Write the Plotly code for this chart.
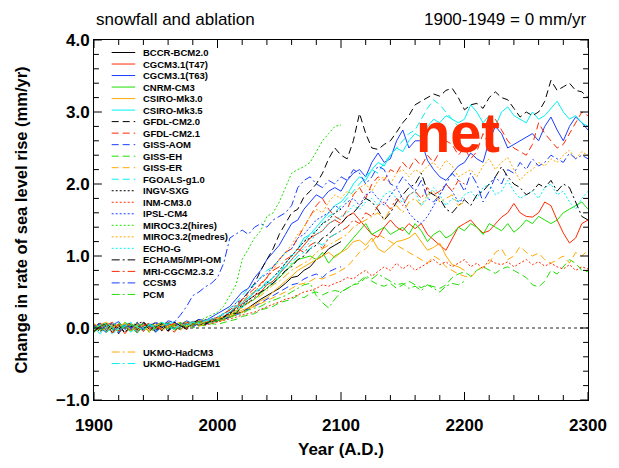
import plotly.graph_objects as go

# ---------------- data (5-year steps from 1900) ----------------
YEARS = list(range(1900, 2301, 5))

MODEL_NAMES = ["BCCR-BCM2.0", "CGCM3.1(T47)", "CGCM3.1(T63)", "CNRM-CM3", "CSIRO-Mk3.0",
               "CSIRO-Mk3.5", "GFDL-CM2.0", "GFDL-CM2.1", "GISS-AOM", "GISS-EH", "GISS-ER",
               "FGOALS-g1.0", "INGV-SXG", "INM-CM3.0", "IPSL-CM4", "MIROC3.2(hires)",
               "MIROC3.2(medres)", "ECHO-G", "ECHAM5/MPI-OM", "MRI-CGCM2.3.2", "CCSM3", "PCM",
               "UKMO-HadCM3", "UKMO-HadGEM1"]

X_MAJOR = [1900, 2000, 2100, 2200, 2300]
Y_MAJOR = [-1.0, 0.0, 1.0, 2.0, 3.0, 4.0]

bccr_bcm2_0 = [-0.04, 0.02, 0.06, -0.07, 0.03, 0.0, 0.05, -0.03, 0.08, 0.02, -0.05, 0.04, 0.07, 0.01, -0.02, 0.05, 0.03, 0.08, 0.05, 0.09,
               0.1, 0.12, 0.15, 0.2, 0.22, 0.28, 0.35, 0.4, 0.45, 0.5, 0.55, 0.62, 0.7, 0.72, 0.8, 0.85, 0.95, 1.0, 1.1, 1.15, 1.2]
cgcm31_t47 = [0.01, 0.07, -0.04, 0.02, 0.05, -0.08, 0.03, 0.0, 0.06, -0.02, 0.04, 0.08, -0.05, 0.03, 0.06, 0.02, 0.09, 0.04, 0.11, 0.08,
              0.12, 0.16, 0.22, 0.28, 0.33, 0.4, 0.45, 0.5, 0.6, 0.65, 0.75, 0.85, 0.95, 1.05, 1.15, 1.25, 1.3, 1.35, 1.45, 1.5,
              1.45, 1.55, 1.6, 1.5, 1.4, 1.3, 1.26, 1.4, 1.5, 1.4, 1.35, 1.45, 1.38, 1.45, 1.3, 1.22, 1.15, 1.08, 1.25, 1.4,
              1.45, 1.5, 1.4, 1.32, 1.35, 1.45, 1.54, 1.6, 1.73, 1.6, 1.55, 1.54, 1.6, 1.75, 1.7, 1.5, 1.32, 1.18, 1.25, 1.45, 1.5]
cgcm31_t63 = [0.05, 0.0, -0.06, 0.04, 0.09, -0.02, 0.03, -0.07, 0.06, 0.02, -0.03, 0.05, 0.08, -0.01, 0.04, 0.1, 0.06, 0.12, 0.1, 0.15,
              0.2, 0.25, 0.3, 0.4, 0.5, 0.55, 0.7, 0.8, 0.95, 1.05, 1.15, 1.3, 1.45, 1.5, 1.65, 1.75, 1.85, 1.8, 1.9, 1.95,
              1.9, 2.05, 2.15, 2.2, 2.1, 2.3, 2.43, 2.3, 2.35, 2.6, 2.75, 2.5, 2.6, 2.6, 2.33, 2.2, 2.1, 2.05, 2.15, 2.25,
              2.3, 2.43, 2.35, 2.3, 2.6, 2.8, 2.7, 2.5, 2.55, 2.6, 2.65, 2.7, 2.6, 2.8, 2.93, 2.75, 2.6, 2.8, 2.93, 2.85, 2.75]
cnrm_cm3 = [0.04, -0.03, 0.0, 0.06, -0.05, 0.08, 0.02, -0.07, 0.03, 0.05, -0.01, 0.04, 0.07, -0.03, 0.02, 0.06, 0.03, 0.08, 0.06, 0.1,
            0.1, 0.14, 0.18, 0.22, 0.3, 0.35, 0.4, 0.48, 0.55, 0.62, 0.7, 0.78, 0.88, 0.95, 0.98, 1.0, 0.95, 1.05, 0.9, 1.0,
            1.05, 1.15, 1.25, 1.35, 1.45, 1.3, 1.35, 1.4, 1.3, 1.35, 1.4, 1.3, 1.45, 1.35, 1.2, 1.3, 1.35, 1.25, 1.3, 1.4,
            1.35, 1.45, 1.4, 1.3, 1.45, 1.4, 1.35, 1.45, 1.33, 1.4, 1.5, 1.45, 1.55, 1.5, 1.45, 1.5, 1.6, 1.65, 1.7, 1.75, 1.65]
csiro_mk3_0 = [-0.02, 0.05, 0.08, 0.01, -0.06, 0.03, 0.06, -0.03, 0.04, 0.0, 0.07, -0.04, 0.02, 0.05, 0.08, 0.01, 0.06, 0.09, 0.07, 0.11,
               0.1, 0.14, 0.16, 0.2, 0.25, 0.28, 0.32, 0.38, 0.42, 0.5, 0.58, 0.65, 0.72, 0.8, 0.85, 0.9, 0.95, 1.0, 1.05, 0.98,
               1.05, 1.1, 1.2, 1.22, 1.15, 1.25, 1.1, 1.05, 1.13, 1.2, 1.22, 1.25, 1.32, 1.2, 1.08, 1.12, 1.18, 1.0, 0.88, 0.85, 0.8]
csiro_mk3_5 = [0.0, -0.08, 0.04, 0.07, -0.03, 0.02, -0.06, 0.05, 0.01, -0.04, 0.03, 0.06, -0.02, 0.0, 0.07, 0.04, 0.08, 0.03, 0.1, 0.08,
               0.15, 0.12, 0.22, 0.3, 0.28, 0.4, 0.5, 0.55, 0.65, 0.6, 0.75, 0.9, 1.0, 1.1, 1.25, 1.3, 1.4, 1.5, 1.6, 1.7,
               1.75, 1.85, 2.0, 2.1, 2.05, 2.2, 2.3, 2.25, 2.4, 2.5, 2.45, 2.6, 2.7, 2.65, 2.8, 2.9, 2.85, 2.95, 2.9, 2.85,
               2.9, 3.1, 3.0, 2.85, 2.95, 2.8, 3.0, 3.07, 2.95, 2.9, 2.85, 3.0, 2.9, 2.95, 3.05, 3.15, 3.0, 2.9, 2.95, 2.85, 2.8]
gfdl_cm2_0 = [0.03, -0.06, 0.05, 0.0, -0.08, 0.04, 0.07, -0.03, 0.02, -0.05, 0.06, 0.01, -0.04, 0.08, 0.03, -0.02, 0.05, 0.1, 0.06, 0.12,
              0.1, 0.15, 0.2, 0.28, 0.4, 0.5, 0.62, 0.8, 0.95, 1.1, 1.3, 1.45, 1.6, 1.65, 1.82, 1.9, 2.0, 2.15, 2.35, 2.5,
              2.4, 2.35, 2.6, 2.98, 2.7, 2.5, 2.48, 2.55, 2.6, 2.72, 2.85, 2.95, 3.1, 3.15, 3.2, 3.25, 3.22, 3.3, 3.33, 3.2,
              3.03, 3.1, 3.12, 3.05, 3.2, 3.28, 3.2, 3.17, 3.05, 2.93, 3.0, 2.95, 3.0, 3.15, 3.44, 3.3, 3.35, 3.4, 3.3, 3.28, 3.2]
gfdl_cm2_1 = [-0.04, 0.05, 0.02, -0.07, 0.06, 0.0, -0.03, 0.08, -0.05, 0.03, 0.07, -0.02, 0.04, -0.06, 0.05, 0.09, 0.02, 0.08, 0.06, 0.1,
              0.12, 0.2, 0.18, 0.3, 0.35, 0.45, 0.5, 0.62, 0.7, 0.85, 0.95, 1.05, 1.1, 1.25, 1.4, 1.55, 1.7, 1.8, 1.65, 1.55,
              1.5, 1.65, 1.85, 1.95, 1.8, 2.0, 2.1, 2.05, 2.2, 2.15, 2.3, 2.2, 2.35, 2.25, 2.4, 2.3, 2.45, 2.6, 2.55, 2.4,
              2.5, 2.35, 2.45, 2.7, 2.55, 2.9, 2.75, 2.6, 2.5, 2.45, 2.4, 2.55, 2.85, 2.7, 2.6, 2.5, 2.55, 2.7, 2.85, 3.0, 2.95]
giss_aom = [-0.01, 0.05, 0.02, -0.05, 0.06, 0.03, -0.02, 0.07, 0.0, 0.04, -0.06, 0.02, 0.05, 0.08, 0.03, 0.06, 0.01, 0.07, 0.05, 0.08,
            0.1, 0.12, 0.16, 0.18, 0.22, 0.25, 0.3, 0.35, 0.4, 0.45, 0.5, 0.55, 0.6, 0.62, 0.68, 0.72, 0.75, 0.7, 0.78, 0.82, 0.85]
giss_eh = [-0.06, 0.02, 0.05, -0.03, 0.07, 0.0, -0.04, 0.03, 0.06, -0.07, 0.01, 0.04, -0.02, 0.05, 0.02, 0.07, 0.0, 0.04, 0.03, 0.06,
           0.05, 0.08, 0.1, 0.12, 0.16, 0.18, 0.2, 0.25, 0.28, 0.3, 0.35, 0.38, 0.4, 0.45, 0.42, 0.48, 0.5, 0.46, 0.5, 0.52,
           0.5, 0.55, 0.6, 0.62, 0.7, 0.65, 0.6, 0.58, 0.62, 0.55, 0.6, 0.65, 0.6, 0.56, 0.6, 0.58, 0.55, 0.6, 0.7, 0.75,
           0.78, 0.72, 0.8, 0.85, 0.8, 0.76, 0.82, 0.85, 0.8, 0.75, 0.7, 0.6, 0.57, 0.65, 0.8, 0.75, 0.85, 0.95, 0.9, 0.8, 0.78]
giss_er = [0.04, -0.04, 0.01, 0.05, -0.07, 0.03, 0.06, 0.02, -0.05, 0.04, 0.08, -0.01, 0.03, 0.06, -0.03, 0.05, 0.07, 0.02, 0.06, 0.09,
           0.08, 0.12, 0.15, 0.18, 0.22, 0.25, 0.3, 0.33, 0.38, 0.42, 0.45, 0.5, 0.55, 0.6, 0.62, 0.65, 0.7, 0.68, 0.72, 0.75,
           0.8, 0.85, 0.95, 1.05, 1.1, 1.2, 1.3, 1.25, 1.2, 1.15, 1.1, 1.05, 1.0, 0.95, 0.9, 1.0, 0.95, 0.85, 0.8, 0.75,
           0.72, 0.7, 0.8, 0.85, 0.9, 1.05, 1.1, 0.95, 1.0, 1.13, 1.05, 1.0, 1.04, 0.95, 0.9, 0.95, 1.0, 0.9, 1.05, 1.0, 1.08]
fgoals_g1_0 = [0.0, 0.06, -0.05, 0.03, 0.08, -0.02, 0.04, -0.06, 0.02, 0.07, 0.0, -0.03, 0.05, 0.09, 0.01, 0.06, 0.04, 0.08, 0.1, 0.13,
               0.15, 0.2, 0.28, 0.35, 0.45, 0.55, 0.6, 0.7, 0.8, 0.85, 0.95, 1.05, 1.0, 1.1, 1.2, 1.3, 1.35, 1.45, 1.55, 1.6,
               1.7, 1.8, 1.9, 2.0, 2.1, 2.2, 2.15, 2.3, 2.4, 2.5, 2.6, 2.7, 2.75, 2.9, 3.05, 3.17, 3.1, 3.0, 2.9, 2.8, 2.75]
ingv_sxg = [0.02, 0.07, -0.03, 0.04, 0.0, -0.06, 0.05, 0.03, -0.02, 0.06, 0.01, -0.04, 0.08, 0.03, 0.05, 0.0, 0.06, 0.04, 0.07, 0.08,
            0.1, 0.15, 0.2, 0.25, 0.32, 0.38, 0.45, 0.55, 0.62, 0.7, 0.8, 0.9, 1.0, 1.1, 1.2, 1.25, 1.35, 1.45, 1.5, 1.6, 1.65]
inm_cm3_0 = [0.03, -0.05, 0.02, 0.06, -0.03, 0.01, 0.07, -0.06, 0.04, 0.02, -0.02, 0.05, 0.0, 0.06, 0.03, -0.01, 0.05, 0.08, 0.04, 0.06,
             0.08, 0.1, 0.12, 0.15, 0.18, 0.2, 0.22, 0.26, 0.3, 0.33, 0.36, 0.4, 0.42, 0.46, 0.5, 0.52, 0.55, 0.6, 0.58, 0.62,
             0.65, 0.7, 0.68, 0.75, 0.8, 0.72, 0.78, 0.85, 0.8, 0.9, 0.82, 0.88, 0.8, 0.85, 0.9, 0.95, 0.88, 0.92, 0.85, 0.9,
             0.95, 0.85, 0.9, 0.82, 0.95, 0.9, 0.88, 0.92, 0.85, 0.9, 0.95, 0.88, 0.92, 0.86, 0.9, 0.85, 0.82, 0.88, 0.8, 0.85, 0.82]
ipsl_cm4 = [0.05, -0.03, 0.02, 0.07, -0.05, 0.04, 0.0, 0.06, -0.02, 0.03, 0.08, 0.04, -0.04, 0.02, 0.07, 0.05, 0.09, 0.06, 0.12, 0.1,
            0.15, 0.2, 0.25, 0.35, 0.4, 0.5, 0.6, 0.7, 0.75, 0.85, 0.95, 1.05, 1.1, 1.25, 1.3, 1.4, 1.5, 1.55, 1.6, 1.7,
            1.65, 1.75, 1.8, 1.7, 1.85, 1.9, 1.8, 1.7, 1.85, 1.95, 1.8, 1.6, 1.5, 1.45, 1.55, 1.7, 1.85, 2.0, 1.9, 1.75, 1.8]
miroc32_hires = [0.03, -0.04, 0.06, 0.01, -0.06, 0.05, 0.02, 0.08, -0.03, 0.04, 0.0, 0.07, 0.03, -0.02, 0.06, 0.09, 0.05, 0.1, 0.14, 0.18,
                 0.22, 0.3, 0.45, 0.6, 0.95, 1.1, 1.25, 1.35, 1.55, 1.6, 1.75, 1.95, 2.15, 2.2, 2.24, 2.3, 2.45, 2.6, 2.7, 2.8, 2.82]
miroc32_medres = [-0.03, 0.04, 0.07, -0.05, 0.02, 0.06, -0.04, 0.01, 0.05, -0.06, 0.03, 0.08, 0.0, 0.04, -0.02, 0.06, 0.09, 0.05, 0.12, 0.1,
                  0.14, 0.2, 0.25, 0.3, 0.38, 0.45, 0.5, 0.6, 0.7, 0.8, 0.95, 1.05, 1.15, 1.3, 1.4, 1.55, 1.65, 1.6, 1.75, 1.85,
                  1.8, 1.9, 1.85, 1.95, 2.0, 1.9, 2.05, 2.1, 2.0, 2.15, 2.2, 2.1, 2.2, 2.15, 2.25, 2.3, 2.2, 2.33, 2.25, 2.1,
                  2.15, 2.2, 2.1, 2.25, 2.35, 2.2, 2.3, 2.37, 2.2, 2.05, 2.15, 2.2, 2.3, 2.25, 2.35, 2.3, 2.4, 2.47, 2.35, 2.45, 2.4]
echo_g = [0.06, -0.02, 0.03, -0.09, 0.01, 0.05, 0.08, -0.04, 0.0, 0.06, -0.05, 0.02, 0.07, 0.03, -0.01, 0.05, 0.1, 0.07, 0.09, 0.14,
          0.12, 0.18, 0.22, 0.3, 0.35, 0.42, 0.5, 0.55, 0.6, 0.7, 0.78, 0.85, 0.95, 1.05, 1.1, 1.2, 1.3, 1.35, 1.45, 1.5,
          1.55, 1.6, 1.7, 1.65, 1.75, 1.8, 1.7, 1.85, 1.9, 1.8, 1.75, 1.85, 1.9, 1.7, 1.8, 1.95, 1.85, 1.7, 1.8, 1.75,
          1.85, 1.9, 1.8, 1.95, 2.0, 1.85, 1.9, 2.05, 1.9, 1.8, 1.85, 1.9, 1.8, 1.95, 2.0, 1.85, 1.9, 1.75, 1.65, 1.8, 1.9]
echam5_mpi_om = [-0.05, 0.03, 0.07, -0.02, 0.04, -0.06, 0.02, 0.05, 0.09, -0.03, 0.01, 0.06, -0.04, 0.08, 0.03, 0.0, 0.07, 0.12, 0.05, 0.1,
                 0.12, 0.15, 0.22, 0.2, 0.3, 0.35, 0.42, 0.5, 0.55, 0.62, 0.7, 0.8, 0.85, 0.95, 1.0, 1.1, 1.15, 1.25, 1.3, 1.4,
                 1.45, 1.55, 1.6, 1.7, 1.8, 1.75, 1.64, 1.5, 1.6, 1.75, 1.85, 1.95, 2.0, 2.15, 1.9, 1.85, 1.8, 1.65, 1.6, 1.7,
                 1.78, 1.7, 1.85, 1.9, 2.0, 2.1, 2.24, 2.1, 2.0, 1.95, 1.85, 1.9, 2.0, 1.95, 2.05, 1.9, 2.0, 1.95, 1.75, 1.55, 1.5]
mri_cgcm2_3_2 = [0.05, -0.02, 0.04, 0.08, -0.04, 0.01, 0.06, -0.05, 0.03, 0.07, 0.02, -0.03, 0.04, 0.06, 0.0, 0.08, 0.05, 0.1, 0.07, 0.12,
                 0.15, 0.2, 0.25, 0.32, 0.4, 0.48, 0.55, 0.6, 0.7, 0.8, 0.85, 0.95, 1.0, 1.1, 1.05, 1.15, 1.2, 1.1, 1.25, 1.3,
                 1.35, 1.4, 1.5, 1.45, 1.6, 1.55, 1.7, 1.75, 1.65, 1.8, 1.7, 1.85, 1.9, 1.8, 1.95, 1.85, 1.9, 2.0, 1.9, 2.05, 2.0]
ccsm3 = [0.02, 0.06, -0.04, 0.03, -0.07, 0.05, 0.0, 0.08, -0.03, 0.04, 0.07, 0.02, 0.1, 0.08, 0.18, 0.3, 0.45, 0.5, 0.57, 0.62,
         0.7, 0.9, 1.25, 1.3, 1.36, 1.3, 1.4, 1.45, 1.4, 1.5, 1.55, 1.6, 1.7, 1.95, 2.05, 2.1, 2.0, 1.95, 2.05, 2.0,
         2.1, 2.05, 2.2, 2.15, 2.0, 2.1, 2.25, 2.2, 2.0, 1.96, 2.1, 2.0, 1.9, 2.05, 1.8, 1.75, 1.85, 2.0, 2.15, 2.05,
         1.9, 2.15, 2.0, 1.75, 1.9, 2.1, 2.0, 2.2, 2.15, 2.3, 2.2, 2.35, 2.25, 2.3, 2.4, 2.35, 2.3, 2.43, 2.35, 2.4, 2.35]
pcm = [0.0, 0.04, -0.06, 0.03, 0.07, -0.02, 0.05, 0.01, -0.04, 0.06, 0.03, 0.08, -0.01, 0.04, 0.07, 0.02, 0.05, 0.09, 0.06, 0.08,
       0.1, 0.12, 0.15, 0.18, 0.2, 0.25, 0.28, 0.3, 0.35, 0.38, 0.42, 0.45, 0.5, 0.55, 0.6, 0.62, 0.45, 0.35, 0.28, 0.4,
       0.5, 0.55, 0.6, 0.65, 0.72, 0.68, 0.75, 0.7, 0.65, 0.6, 0.62, 0.55, 0.58, 0.52, 0.6, 0.55, 0.5, 0.58, 0.62, 0.6, 0.65]
ukmo_hadcm3 = [0.06, 0.01, -0.05, 0.04, 0.02, 0.07, -0.03, 0.05, 0.0, -0.04, 0.06, 0.03, 0.08, 0.01, 0.05, 0.03, 0.07, 0.05, 0.09, 0.11,
               0.12, 0.15, 0.18, 0.24, 0.28, 0.35, 0.4, 0.45, 0.52, 0.6, 0.65, 0.72, 0.8, 0.85, 0.9, 0.95, 1.05, 1.1, 1.15, 1.2,
               1.25, 1.3, 1.4, 1.45, 1.5, 1.55, 1.6, 1.5, 1.65, 1.7, 1.6, 1.75, 1.8, 1.7, 1.85, 1.9, 1.75, 1.8, 1.85, 1.7, 1.75]
ukmo_hadgem1 = [-0.02, 0.04, 0.07, 0.0, -0.05, 0.03, 0.06, 0.02, -0.03, 0.05, 0.01, 0.08, 0.04, -0.02, 0.06, 0.03, 0.08, 0.06, 0.1, 0.12,
                0.15, 0.2, 0.22, 0.3, 0.35, 0.42, 0.5, 0.55, 0.62, 0.7, 0.78, 0.85, 0.9, 1.0, 1.05, 1.1, 1.2, 1.15, 1.25, 1.3, 1.35]

SERIES = [bccr_bcm2_0, cgcm31_t47, cgcm31_t63, cnrm_cm3, csiro_mk3_0, csiro_mk3_5, gfdl_cm2_0, gfdl_cm2_1,
          giss_aom, giss_eh, giss_er, fgoals_g1_0, ingv_sxg, inm_cm3_0, ipsl_cm4, miroc32_hires, miroc32_medres,
          echo_g, echam5_mpi_om, mri_cgcm2_3_2, ccsm3, pcm, ukmo_hadcm3, ukmo_hadgem1]

# ---------------- styles ----------------
BLACK, RED, BLUE, GREEN, ORANGE, CYAN = "#000000", "#FF2A00", "#1A3DFF", "#1EE000", "#FFAA00", "#00F2F2"
COLOR_CYCLE = [BLACK, RED, BLUE, GREEN, ORANGE, CYAN]
SOLID, DASH, DOT, DASHDOT = "solid", "7px,4px", "2px,2px", "8px,3px,2px,3px"
DASH_CYCLE = [SOLID, DASH, DOT, DASHDOT]

FONT = "Liberation Sans, Arial, Helvetica, sans-serif"


def style_of(i):
    color = COLOR_CYCLE[i % 6] if i < 22 else [ORANGE, CYAN][i - 22]
    dash = DASH_CYCLE[i // 6] if i < 22 else DASHDOT
    return color, dash


fig = go.Figure()
for i, (name, vals) in enumerate(zip(MODEL_NAMES, SERIES)):
    color, dash = style_of(i)
    fig.add_trace(go.Scatter(x=YEARS[:len(vals)], y=vals, mode="lines", name=name,
                             line=dict(color=color, width=1, dash=dash), showlegend=False,
                             hoverinfo="skip"))

PLOT_TOP, PLOT_BOTTOM, PLOT_LEFT, PLOT_RIGHT = 40, 400, 94, 597
PLOT_W, PLOT_H = PLOT_RIGHT - PLOT_LEFT, PLOT_BOTTOM - PLOT_TOP


def px_to_paper_y(py):
    return (PLOT_BOTTOM - py) / PLOT_H


def px_to_paper_x(px):
    return (px - PLOT_LEFT) / PLOT_W


# zero reference line
shapes = [dict(type="line", xref="paper", x0=0, x1=1, yref="y", y0=0, y1=0,
               line=dict(color="#222222", width=1, dash="3px,3px"), layer="below")]

# inward tick marks on all four sides (major + minor), derived from the axis tick values
TICK_LINE = dict(color="black", width=1)
x_ticks = [(X_MAJOR[0] + 20 * k, (k % 5 == 0)) for k in range(21)]
for xv, major in x_ticks:
    ln = (8 if major else 5) / PLOT_H
    shapes.append(dict(type="line", xref="x", yref="paper", x0=xv, x1=xv, y0=0, y1=ln, line=TICK_LINE))
    shapes.append(dict(type="line", xref="x", yref="paper", x0=xv, x1=xv, y0=1, y1=1 - ln, line=TICK_LINE))
y_ticks = [(round(Y_MAJOR[0] + 0.2 * k, 2), (k % 5 == 0)) for k in range(26)]
for yv, major in y_ticks:
    ln = (8 if major else 5) / PLOT_W
    shapes.append(dict(type="line", xref="paper", yref="y", x0=0, x1=ln, y0=yv, y1=yv, line=TICK_LINE))
    shapes.append(dict(type="line", xref="paper", yref="y", x0=1, x1=1 - ln, y0=yv, y1=yv, line=TICK_LINE))

# hand-built compact legend
annotations = []
for i, name in enumerate(MODEL_NAMES):
    slot = i if i < 22 else i + 4
    py = 52.5 + slot * 11.52
    color, dash = style_of(i)
    yp = px_to_paper_y(py)
    shapes.append(dict(type="line", xref="paper", yref="paper", x0=px_to_paper_x(112), x1=px_to_paper_x(136),
                       y0=yp, y1=yp, line=dict(color=color, width=1, dash=dash)))
    annotations.append(dict(text=name, xref="paper", yref="paper", x=px_to_paper_x(142), y=yp,
                            xanchor="left", yanchor="middle", showarrow=False,
                            font=dict(family=FONT, size=9.5, color="black", weight="bold")))

annotations += [
    dict(text="snowfall and ablation", xref="paper", yref="paper", x=0, y=px_to_paper_y(20),
         xanchor="left", yanchor="middle", showarrow=False, font=dict(family=FONT, size=17, color="black")),
    dict(text="1900-1949 = 0 mm/yr", xref="paper", yref="paper", x=1, y=px_to_paper_y(20),
         xanchor="right", yanchor="middle", showarrow=False, font=dict(family=FONT, size=17, color="black")),
    dict(text="net", xref="x", yref="y", x=2195, y=2.72, xanchor="center", yanchor="middle",
         showarrow=False, font=dict(family=FONT, size=56, color="#FF2A00", weight="bold")),
]

TICKFONT = dict(family=FONT, size=17, color="black", weight="bold")

fig.update_layout(
    width=619, height=468,
    margin=dict(l=PLOT_LEFT, r=619 - PLOT_RIGHT, t=PLOT_TOP, b=468 - PLOT_BOTTOM),
    paper_bgcolor="white", plot_bgcolor="white",
    shapes=shapes, annotations=annotations,
    xaxis=dict(range=[X_MAJOR[0], X_MAJOR[-1]], tickmode="array", tickvals=X_MAJOR,
               showline=True, linecolor="black", mirror=True, showgrid=False, zeroline=False,
               tickfont=TICKFONT, ticklabelstandoff=10,
               title=dict(text="Year (A.D.)", standoff=8,
                          font=dict(family=FONT, size=17, color="black", weight="bold"))),
    yaxis=dict(range=[Y_MAJOR[0], Y_MAJOR[-1]], tickmode="array", tickvals=Y_MAJOR, tickformat=".1f",
               showline=True, linecolor="black", mirror=True, showgrid=False, zeroline=False,
               tickfont=TICKFONT, ticksuffix="\u00a0\u00a0\u00a0",
               title=dict(text="Change in rate of sea level rise (mm/yr)", standoff=24,
                          font=dict(family=FONT, size=16.5, color="black", weight="bold"))),
    showlegend=False,
)

fig.write_html("out.html")
